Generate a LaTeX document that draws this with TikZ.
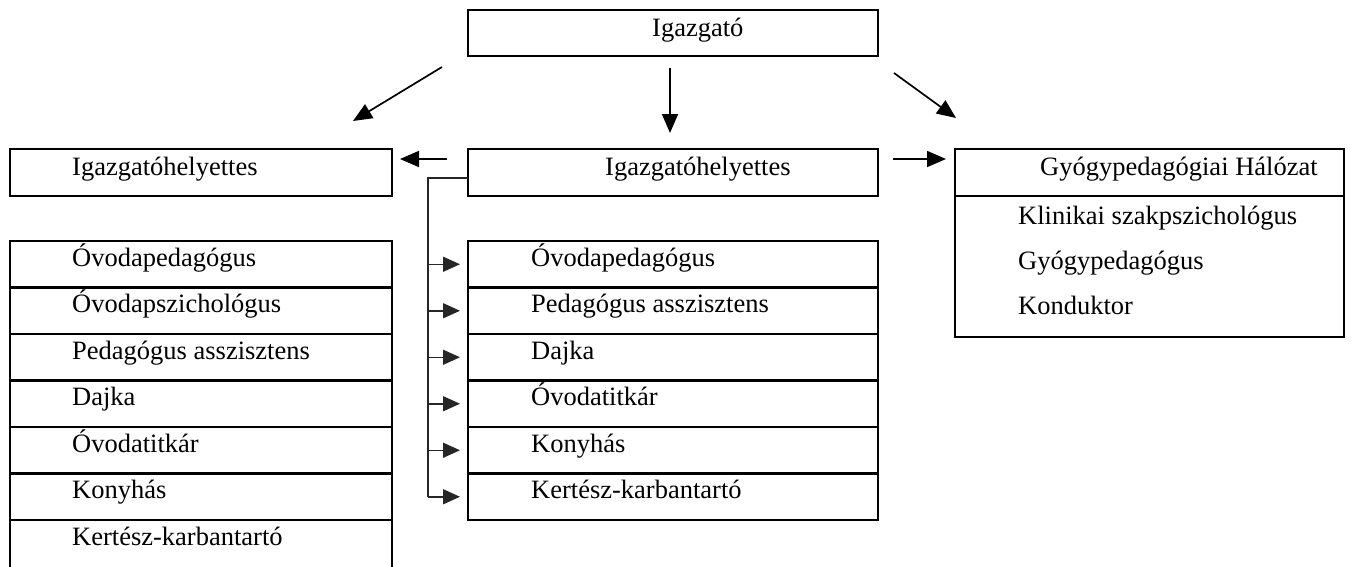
\documentclass[tikz,border=0pt]{standalone}
\usepackage{fontspec}
\setmainfont{Liberation Serif}
\usetikzlibrary{arrows.meta}
\begin{document}
\begin{tikzpicture}[x=1pt,y=-1pt,
  box/.style={draw,line width=2.1pt,rectangle,inner sep=0pt,outer sep=0pt,anchor=north west},
  rowbox/.style={box,minimum height=46.5pt},
  lbl/.style={anchor=base west,inner sep=0pt,font=\fontsize{26.5}{30}\selectfont},
  arr/.style={line width=1.7pt,-{Triangle[length=19pt,width=16pt]}},
  brk/.style={line width=1.5pt,draw=black!85},
  barr/.style={brk,-{Triangle[length=17pt,width=15pt]},shorten >=8pt}]
\useasboundingbox (0,0) rectangle (1354,566);
% top box
\node[box,minimum width=410pt,minimum height=46pt] (top) at (468,10) {};
\node[lbl] (ttop) at (652,36) {Igazgató};
% header row
\node[box,minimum width=382pt,minimum height=47pt] (lh) at (10,149) {};
\node[lbl] (tlh) at (72,175) {Igazgatóhelyettes};
\node[box,minimum width=410pt,minimum height=47pt] (mh) at (468,149) {};
\node[lbl] (tmh) at (605,175) {Igazgatóhelyettes};
\node[box,minimum width=389pt,minimum height=47pt] (rh) at (955,149) {};
\node[lbl] (trh) at (1040,175) {Gyógypedagógiai Hálózat};
\node[box,minimum width=389pt,minimum height=141pt] (rb) at (955,196) {};
\node[lbl] (r0) at (1018,224) {Klinikai szakpszichológus};
\node[lbl] (r1) at (1018,269) {Gyógypedagógus};
\node[lbl] (r2) at (1018,314) {Konduktor};
% arrows from the top box
\coordinate (a1s) at (442,67);  \coordinate (a1e) at (353,121);
\coordinate (a2s) at (670,68);  \coordinate (a2e) at (670,133);
\coordinate (a3s) at (894,73);  \coordinate (a3e) at (956,118);
\draw[arr] (a1s) -- (a1e);
\draw[arr] (a2s) -- (a2e);
\draw[arr] (a3s) -- (a3e);
% arrows between headers
\draw[arr] ([xshift=-21pt,yshift=-10pt]mh.north west) -- ([xshift=8pt,yshift=-10pt]lh.north east);
\draw[arr] ([xshift=15pt,yshift=-10pt]mh.north east) -- ([xshift=-9pt,yshift=-10pt]rh.north west);
% left list
\foreach \t [count=\i from 0] in {Óvodapedagógus,Óvodapszichológus,Pedagógus asszisztens,Dajka,Óvodatitkár,Konyhás} {
  \node[rowbox,minimum width=382pt] (l\i) at (10,{241+\i*46.5}) {};
  \node[lbl] (tl\i) at (72,{241+\i*46.5+25}) {\t};
}
\node[rectangle,inner sep=0pt,outer sep=0pt,anchor=north west,minimum width=382pt,minimum height=50pt] (l6) at (10,520) {};
\draw[line width=2.1pt] (l6.south west) -- (l6.north west) (l6.north east) -- (l6.south east);
\node[lbl] (tl6) at (72,545) {Kertész-karbantartó};
% middle list
\foreach \t [count=\i from 0] in {Óvodapedagógus,Pedagógus asszisztens,Dajka,Óvodatitkár,Konyhás,Kertész-karbantartó} {
  \node[rowbox,minimum width=410pt] (m\i) at (468,{241+\i*46.5}) {};
  \node[lbl] (tm\i) at (531,{241+\i*46.5+25}) {\t};
}
% bracket
\coordinate (bx) at (428,0);
\draw[brk] ([yshift=-5.5pt]mh.west) -| (m5.west -| bx);
\foreach \i in {0,...,5} {
  \draw[barr] (m\i.west -| bx) -- (m\i.west);
}
\end{tikzpicture}
\end{document}
